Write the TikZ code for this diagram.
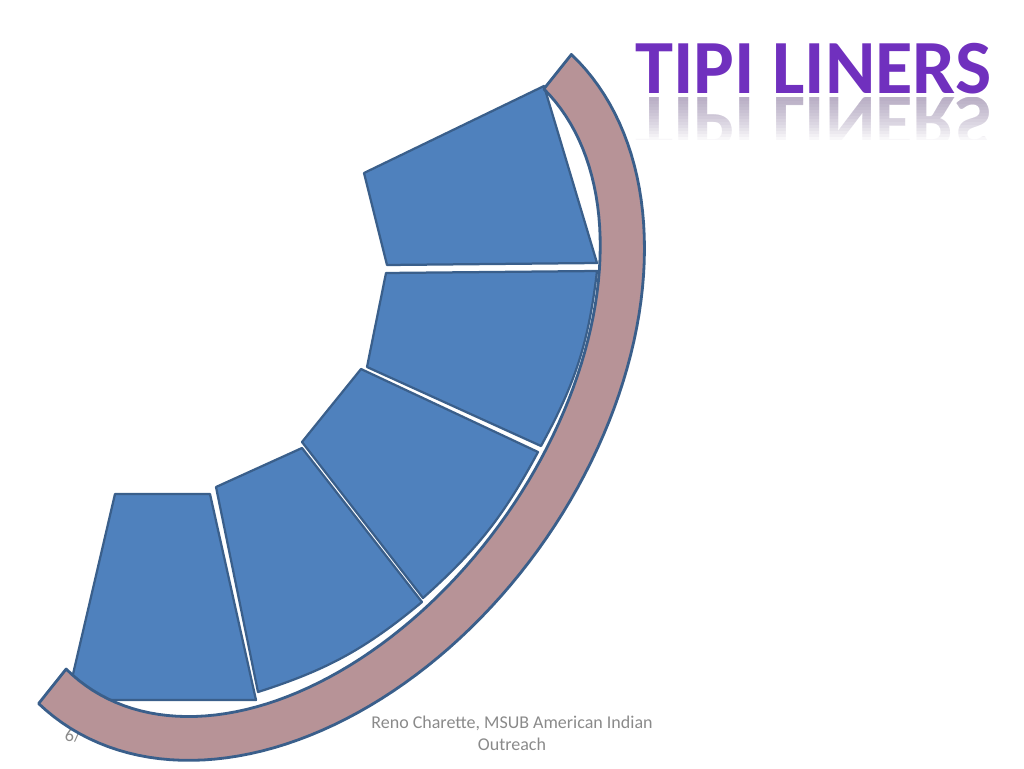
\documentclass[tikz,border=0pt]{standalone}
\usepackage{fontspec}
\setmainfont{Carlito}
\definecolor{linerblue}{HTML}{4F81BD}
\definecolor{lineredge}{HTML}{3A5F8B}
\definecolor{bandpink}{HTML}{B79397}
\definecolor{titlepurple}{HTML}{7030BE}
\definecolor{footgray}{HTML}{8A8A8A}

\begin{document}
\begin{tikzpicture}[x=0.25mm, y=-0.25mm,
    liner/.style={fill=linerblue, draw=lineredge, line width=1.6pt, line join=round},
    band/.style={fill=bandpink, draw=lineredge, line width=2pt, line join=round},
    titletext/.style={anchor=base west, inner sep=0pt, font=\bfseries\fontsize{54.5}{60}\selectfont},
    foot/.style={text=footgray, font=\fontsize{12.8}{15.6}\selectfont}]
  \useasboundingbox (0,0) rectangle (1024,768);

  % Page number (mostly hidden by the band)
  \node[foot, anchor=base west] (pagenum) at (60,741) {6/};

  % Liner panels
  \draw[liner] (364,173) -- (544,86) -- (597,263) -- (387,265) -- cycle;
  \draw[liner] (386,273) -- (597,271) to[bend left=11] (541,446) -- (367,367) -- cycle;
  \draw[liner] (302,442) -- (361,369) -- (538,452) to[bend left=10] (423,598) -- cycle;
  \draw[liner] (216,487) -- (302,448) -- (422,602) to[bend left=11] (258,692) -- cycle;
  \draw[liner] (115,494) -- (210,494) -- (256,700) -- (67,700) -- cycle;

  % Lodge pole band (half ellipse, centre (305,379))
  \draw[band]
    plot[domain=5.5:185.5, samples=90, variable=\t]
      ({305 + 421*cos(\t)*0.582 + 289*sin(\t)*0.813},
       {379 - 421*cos(\t)*0.813 + 289*sin(\t)*0.582})
    -- plot[domain=6:186, samples=90, variable=\s]
      ({305 + 377*cos(192-\s)*0.582 + 243*sin(192-\s)*0.813},
       {379 - 377*cos(192-\s)*0.813 + 243*sin(192-\s)*0.582})
    -- cycle;

  % Title with reflection
  \node[titletext, text=titlepurple] (title) at (635,93) {TIPI LINERS};
  \foreach \k in {1,...,14} {
    \begin{scope}
      \clip (630,97) rectangle (1000,97+3*\k);
      \begin{scope}[shift={(635,97)}, yscale=-1]
        \node[titletext, transform shape, text=titlepurple!30!gray, text opacity=0.05]
          (reflect\k) at (0,0) {TIPI LINERS};
      \end{scope}
    \end{scope}
  }

  % Footer
  \node[foot, align=center] (footer) at (512,733)
    {Reno Charette, MSUB American Indian\\Outreach};
\end{tikzpicture}
\end{document}
